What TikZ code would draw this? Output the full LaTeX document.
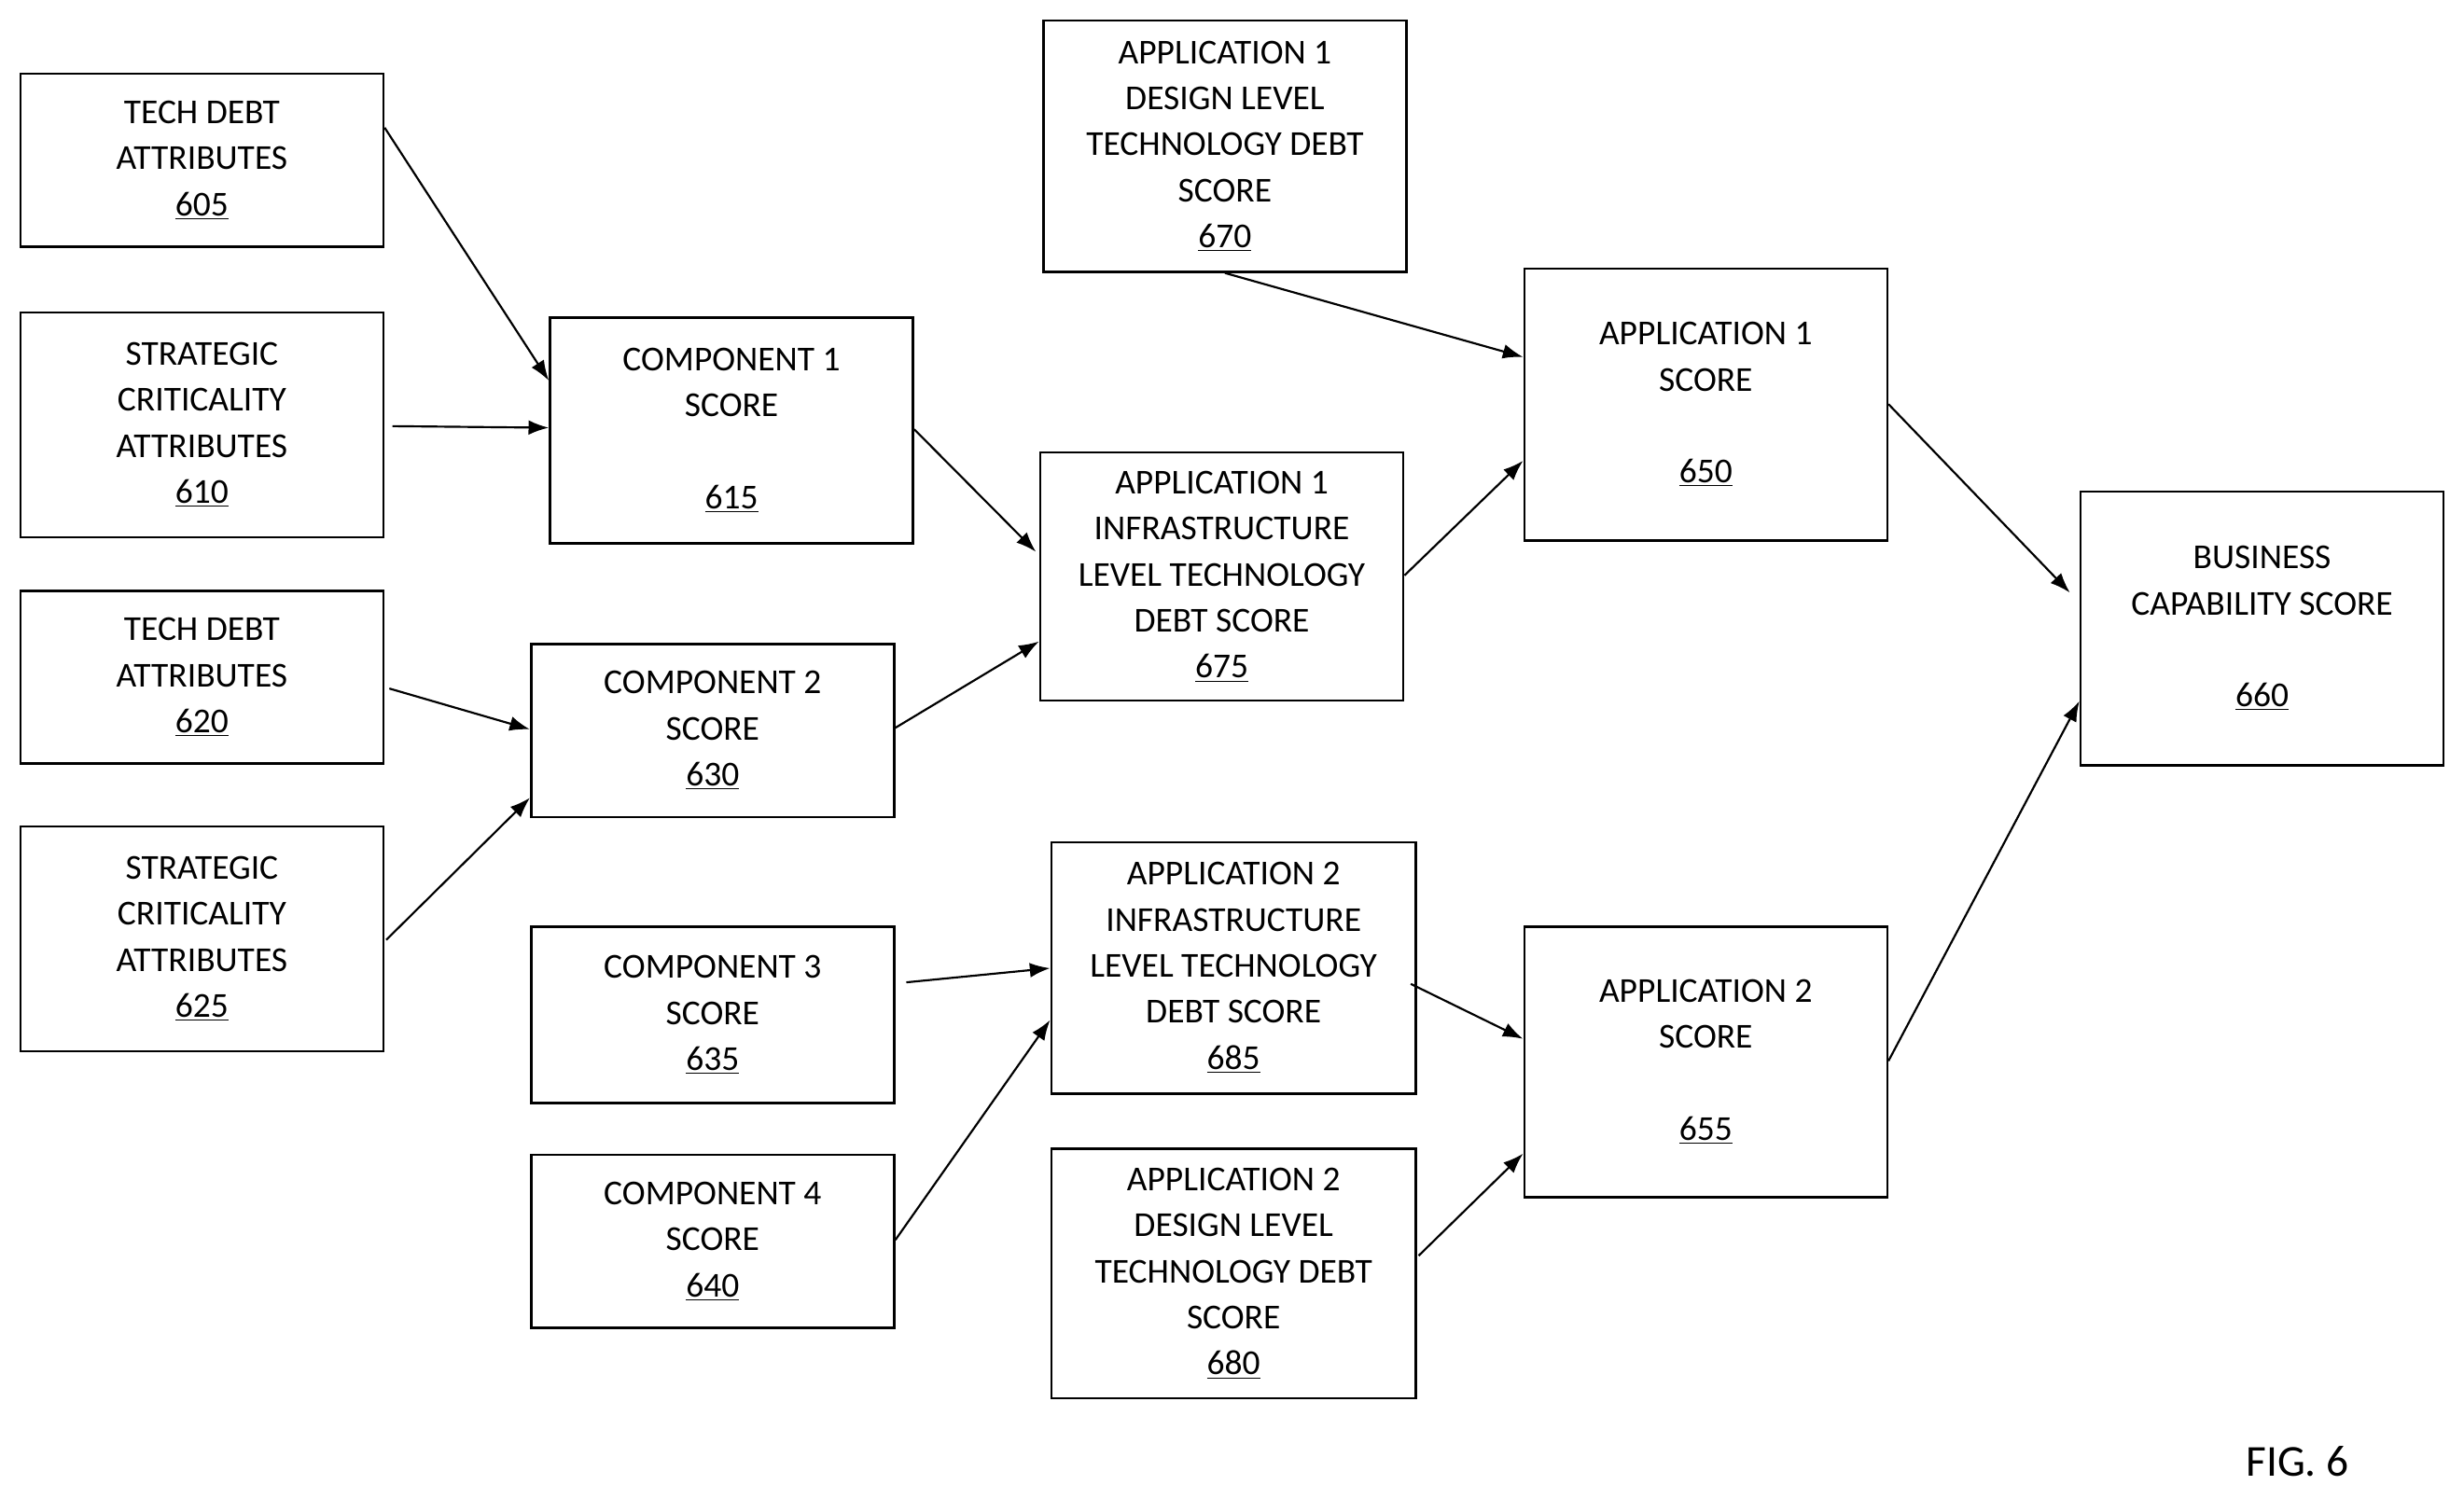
\documentclass[tikz,border=0pt]{standalone}
\usepackage{fontspec}
\setmainfont{Carlito}
\usetikzlibrary{calc,arrows.meta}
\newcommand{\bx}[6]{\node[box,minimum width={(#4-#2)*0.03cm},minimum height={(#5-#3)*0.03cm}] (#1) at ({(#2+#4)/2},{(#3+#5)/2}) {#6};}
\begin{document}
\begin{tikzpicture}[x=0.03cm,y=-0.03cm,
 box/.style={draw,line width=1.3pt,inner sep=0pt,align=center,font=\fontsize{19}{25}\selectfont},
 ar/.style={line width=1.1pt,-{Latex[length=11pt,width=8pt]}}]
\useasboundingbox (0,0) rectangle (1568,954);
\bx{n605}{13}{47}{244}{157}{TECH DEBT\\ATTRIBUTES\\\underline{605}}
\bx{n610}{13}{199}{244}{342}{STRATEGIC\\CRITICALITY\\ATTRIBUTES\\\underline{610}}
\bx{n620}{13}{376}{244}{486}{TECH DEBT\\ATTRIBUTES\\\underline{620}}
\bx{n625}{13}{526}{244}{669}{STRATEGIC\\CRITICALITY\\ATTRIBUTES\\\underline{625}}
\bx{n615}{350}{202}{581}{346}{COMPONENT 1\\SCORE\\[25pt]\underline{615}}
\bx{n630}{338}{410}{569}{520}{COMPONENT 2\\SCORE\\\underline{630}}
\bx{n635}{338}{590}{569}{702}{COMPONENT 3\\SCORE\\\underline{635}}
\bx{n640}{338}{735}{569}{845}{COMPONENT 4\\SCORE\\\underline{640}}
\bx{n670}{664}{13}{895}{173}{APPLICATION 1\\DESIGN LEVEL\\TECHNOLOGY DEBT\\SCORE\\\underline{670}}
\bx{n675}{662}{288}{893}{446}{APPLICATION 1\\INFRASTRUCTURE\\LEVEL TECHNOLOGY\\DEBT SCORE\\\underline{675}}
\bx{n685}{669}{536}{901}{696}{APPLICATION 2\\INFRASTRUCTURE\\LEVEL TECHNOLOGY\\DEBT SCORE\\\underline{685}}
\bx{n680}{669}{731}{901}{890}{APPLICATION 2\\DESIGN LEVEL\\TECHNOLOGY DEBT\\SCORE\\\underline{680}}
\bx{n650}{970}{171}{1201}{344}{APPLICATION 1\\SCORE\\[25pt]\underline{650}}
\bx{n655}{970}{590}{1201}{762}{APPLICATION 2\\SCORE\\[25pt]\underline{655}}
\bx{n660}{1324}{313}{1555}{487}{BUSINESS\\CAPABILITY SCORE\\[25pt]\underline{660}}
\node[font=\fontsize{24}{28}\selectfont] (fig) at (1462,930) {FIG. 6};
\draw[ar] ($(n605.north east)+(0,35)$) -- ($(n615.north west)+(0,41)$);
\draw[ar] ($(n610.north east)+(5,73)$) -- ($(n615.north west)+(0,71)$);
\draw[ar] ($(n620.north east)+(3,63)$) -- ($(n630.north west)+(0,55)$);
\draw[ar] ($(n625.north east)+(1,73)$) -- ($(n630.south west)+(0,-13)$);
\draw[ar] ($(n615.north east)+(0,72)$) -- ($(n675.north west)+(-2,64)$);
\draw[ar] ($(n630.north east)+(0,54)$) -- ($(n675.north west)+(0,121)$);
\draw[ar] ($(n635.north east)+(7,36)$) -- ($(n685.north west)+(0,81)$);
\draw[ar] ($(n640.north east)+(0,55)$) -- ($(n685.north west)+(0,114)$);
\draw[ar] (n670.south) -- ($(n650.north west)+(0,57)$);
\draw[ar] ($(n675.north east)+(0,79)$) -- ($(n650.north west)+(0,123)$);
\draw[ar] ($(n685.north east)+(-4,91)$) -- ($(n655.north west)+(0,72)$);
\draw[ar] ($(n680.north east)+(1,69)$) -- ($(n655.north west)+(0,145)$);
\draw[ar] ($(n650.north east)+(0,87)$) -- ($(n660.north west)+(-6,65)$);
\draw[ar] ($(n655.north east)+(0,86)$) -- ($(n660.north west)+(0,134)$);
\end{tikzpicture}
\end{document}
